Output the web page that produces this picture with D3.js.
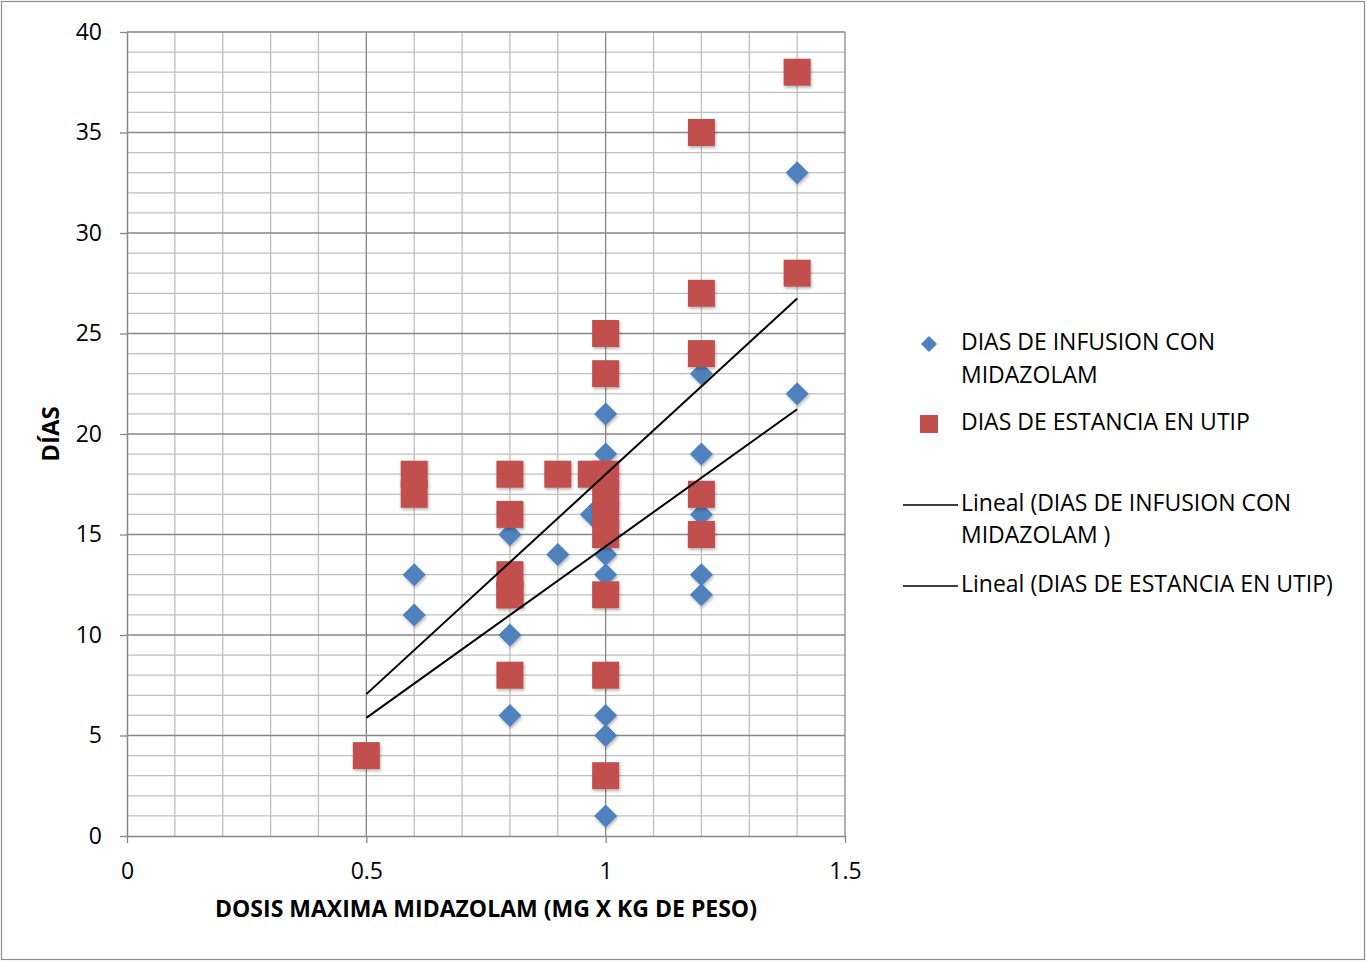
<!DOCTYPE html>
<html>
<head>
<meta charset="utf-8">
<script src="https://cdn.jsdelivr.net/npm/d3@7"></script>
<style>
  html, body { margin: 0; padding: 0; background: #ffffff; }
  svg { display: block; }
  text { font-family: "Open Sans", Lato, sans-serif; fill: #000; }
</style>
</head>
<body>
<svg id="chart" width="1367" height="963"></svg>
<script>
// Dose (mg/kg) and days for each patient
const infusionDose = [0.5, 0.6, 0.6, 0.8, 0.8, 0.8, 0.8, 0.8, 0.9, 0.97,
  1.0, 1.0, 1.0, 1.0, 1.0, 1.0, 1.0, 1.2, 1.2, 1.2, 1.2, 1.2, 1.4, 1.4];
const infusionDays = [4, 13, 11, 15, 10, 6, 16, 13, 14, 16,
  21, 19, 14, 13, 6, 5, 1, 23, 19, 16, 13, 12, 33, 22];

const stayDose = [0.5, 0.6, 0.6, 0.8, 0.8, 0.8, 0.8, 0.8, 0.8, 0.9, 0.97,
  1.0, 1.0, 1.0, 1.0, 1.0, 1.0, 1.0, 1.0, 1.0, 1.2, 1.2, 1.2, 1.2, 1.2, 1.2, 1.4, 1.4];
const stayDays = [4, 18, 17, 18, 16, 13, 12, 12, 8, 18, 18,
  25, 23, 18, 17, 16, 15, 12, 8, 3, 35, 27, 24, 17, 15, 15, 38, 28];

const xTicks = [0, 0.5, 1, 1.5];
const yTicks = [0, 5, 10, 15, 20, 25, 30, 35, 40];
const xTickLabels = ["0", "0.5", "1", "1.5"];

const BLUE = "#4F81BD", RED = "#C0504D";
const FONT = "'Open Sans', Lato, sans-serif";
const FS = "23px";

const svg = d3.select("#chart");
const W = 1367, H = 963;
const plot = { left: 127, top: 32, right: 845, bottom: 836 };

const x = d3.scaleLinear().domain([0, 1.5]).range([plot.left, plot.right]);
const y = d3.scaleLinear().domain([0, 40]).range([plot.bottom, plot.top]);

// outer chart border
svg.append("rect").attr("x", 1.5).attr("y", 1.5).attr("width", W - 4).attr("height", H - 5)
  .attr("fill", "#fff").attr("stroke", "#8c8c8c").attr("stroke-width", 1.2);

// drop shadow for markers
const defs = svg.append("defs");
const f = defs.append("filter").attr("id", "shadow").attr("x", "-30%").attr("y", "-30%")
  .attr("width", "170%").attr("height", "170%");
f.append("feDropShadow").attr("dx", 1).attr("dy", 2).attr("stdDeviation", 1.4)
  .attr("flood-color", "#000").attr("flood-opacity", 0.28);

// grid: minor lines every 0.1 on x and every 1 on y, major every 0.5 / 5
const g = svg.append("g");
const minorX = d3.range(1, 15).map(i => i / 10).filter(v => Math.abs(v * 2 - Math.round(v * 2)) > 1e-9);
const minorY = d3.range(1, 40).filter(v => v % 5 !== 0);
g.selectAll(".mx").data(minorX).join("line")
  .attr("x1", d => x(d)).attr("x2", d => x(d)).attr("y1", plot.top).attr("y2", plot.bottom)
  .attr("stroke", "#bfbfbf").attr("stroke-width", 1.3);
g.selectAll(".my").data(minorY).join("line")
  .attr("x1", plot.left).attr("x2", plot.right).attr("y1", d => y(d)).attr("y2", d => y(d))
  .attr("stroke", "#bfbfbf").attr("stroke-width", 1.3);
g.selectAll(".Mx").data(xTicks.slice(1)).join("line")
  .attr("x1", d => x(d)).attr("x2", d => x(d)).attr("y1", plot.top).attr("y2", plot.bottom)
  .attr("stroke", "#878787").attr("stroke-width", 1.3);
g.selectAll(".My").data(yTicks.slice(1)).join("line")
  .attr("x1", plot.left).attr("x2", plot.right).attr("y1", d => y(d)).attr("y2", d => y(d))
  .attr("stroke", "#878787").attr("stroke-width", 1.3);

// axes
const xAxis = d3.axisBottom(x).tickValues(xTicks).tickFormat((d, i) => xTickLabels[i])
  .tickSizeInner(7).tickSizeOuter(0).tickPadding(0);
const yAxis = d3.axisLeft(y).tickValues(yTicks).tickSizeInner(7).tickSizeOuter(0).tickPadding(18);

const gx = svg.append("g").attr("transform", `translate(0,${plot.bottom})`).call(xAxis);
const gy = svg.append("g").attr("transform", `translate(${plot.left},0)`).call(yAxis);
[gx, gy].forEach(a => {
  a.attr("font-family", null).attr("font-size", null);
  a.selectAll("path.domain").attr("stroke", "#878787").attr("stroke-width", 1.5);
  a.selectAll(".tick line").attr("stroke", "#878787").attr("stroke-width", 1.3);
  a.selectAll("text").style("font-family", FONT).style("font-size", FS).attr("fill", "#000");
});
gx.selectAll("text").attr("y", 35).attr("dy", "0.35em");
gy.selectAll("text").attr("x", -25);

// axis titles
svg.append("text").attr("x", 486).attr("y", 911).attr("text-anchor", "middle")
  .attr("dominant-baseline", "middle").style("font-size", FS).style("font-weight", "bold")
  .text("DOSIS MAXIMA MIDAZOLAM (MG X KG DE PESO)");
svg.append("text").attr("transform", "translate(53,434) rotate(-90)").attr("text-anchor", "middle")
  .attr("dominant-baseline", "middle").style("font-size", "24px").style("font-weight", "bold")
  .text("DÍAS");

// markers
const diamond = d3.symbol().type(d3.symbolDiamond2).size(13 * 13 * 2);
const infusion = infusionDose.map((d, i) => ({ x: d, y: infusionDays[i] }));
const stay = stayDose.map((d, i) => ({ x: d, y: stayDays[i] }));

svg.append("g").attr("filter", "url(#shadow)").selectAll("path").data(infusion).join("path")
  .attr("d", diamond).attr("transform", d => `translate(${x(d.x)},${y(d.y)})`)
  .attr("fill", BLUE);

const sq = 27;
svg.append("g").attr("filter", "url(#shadow)").selectAll("rect").data(stay).join("rect")
  .attr("x", d => x(d.x) - sq / 2).attr("y", d => y(d.y) - sq / 2)
  .attr("width", sq).attr("height", sq).attr("fill", RED);

// least-squares trend lines over each series' dose range
function fit(xs, ys) {
  const mx = d3.mean(xs), my = d3.mean(ys);
  let sxy = 0, sxx = 0;
  xs.forEach((v, i) => { sxy += (v - mx) * (ys[i] - my); sxx += (v - mx) * (v - mx); });
  const slope = sxy / sxx, icpt = my - slope * mx;
  const [x0, x1] = d3.extent(xs);
  return [[x0, icpt + slope * x0], [x1, icpt + slope * x1]];
}
const line = d3.line().x(d => x(d[0])).y(d => y(d[1]));
[fit(infusionDose, infusionDays), fit(stayDose, stayDays)].forEach(pts => {
  svg.append("path").attr("d", line(pts)).attr("fill", "none")
    .attr("stroke", "#000").attr("stroke-width", 2);
});

// legend
const lg = svg.append("g");
lg.append("path").attr("d", d3.symbol().type(d3.symbolDiamond2).size(9 * 9 * 2)())
  .attr("transform", "translate(929,344)").attr("fill", BLUE);
lg.append("rect").attr("x", 920).attr("y", 415).attr("width", 18).attr("height", 18).attr("fill", RED);
lg.append("line").attr("x1", 903).attr("x2", 958).attr("y1", 505).attr("y2", 505)
  .attr("stroke", "#000").attr("stroke-width", 1.5);
lg.append("line").attr("x1", 903).attr("x2", 958).attr("y1", 586).attr("y2", 586)
  .attr("stroke", "#000").attr("stroke-width", 1.5);

const legendLines = [
  ["DIAS DE INFUSION CON", 344], ["MIDAZOLAM", 377],
  ["DIAS DE ESTANCIA EN UTIP", 424],
  ["Lineal (DIAS DE INFUSION CON", 505], ["MIDAZOLAM )", 537],
  ["Lineal (DIAS DE ESTANCIA EN UTIP)", 586]
];
lg.selectAll("text.leg").data(legendLines).join("text")
  .attr("x", 961).attr("y", d => d[1]).attr("dominant-baseline", "middle")
  .style("font-size", FS).text(d => d[0]);
</script>
</body>
</html>
